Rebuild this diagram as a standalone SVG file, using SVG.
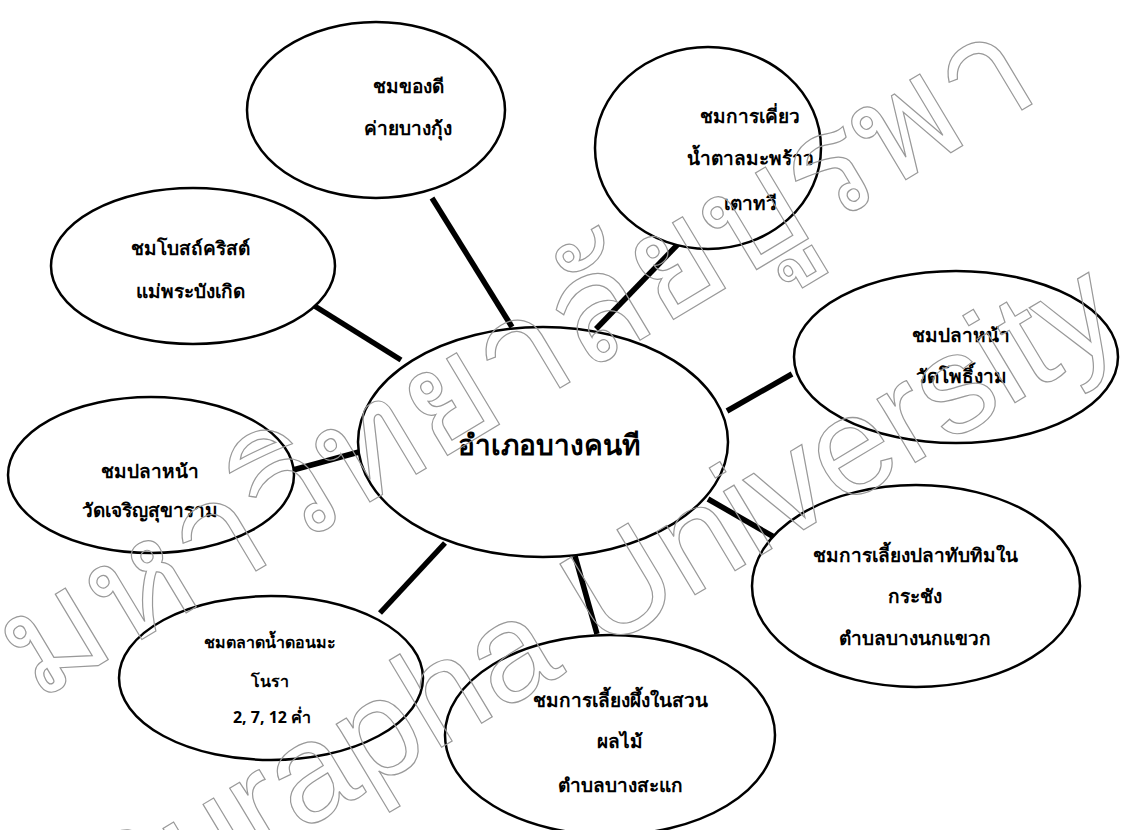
<svg xmlns="http://www.w3.org/2000/svg" width="1122" height="830" viewBox="0 0 1122 830">
<style>
.bg{fill:#fff}
.node ellipse{fill:#fff;stroke:#000;stroke-width:2.5}
.node text{font-family:"Noto Sans","DejaVu Sans",sans-serif;font-weight:bold;font-size:19px;fill:#000;text-anchor:middle}
.node text.sm{font-size:16px}
.node text.big{font-size:28px}
#connectors line{stroke:#000;stroke-width:5.5;stroke-linecap:butt}
.wm{font-family:"Liberation Sans","Noto Sans",sans-serif;fill:none;stroke:#999;stroke-width:1.2;text-anchor:middle}
</style>
<rect class="bg" x="0" y="0" width="1122" height="830"/>
<g id="connectors">
<line x1="432" y1="198" x2="512" y2="327"/>
<line x1="684" y1="238" x2="596" y2="329"/>
<line x1="313" y1="305" x2="401" y2="360"/>
<line x1="792" y1="374" x2="727" y2="411"/>
<line x1="293" y1="470" x2="359" y2="452"/>
<line x1="708" y1="499" x2="774" y2="537"/>
<line x1="445" y1="543" x2="380" y2="613"/>
<line x1="575" y1="556" x2="597" y2="634"/>
</g>
<g id="node-top" class="node">
<ellipse cx="376" cy="110" rx="129" ry="88"/>
<text x="408" y="93">ชมของดี</text>
<text x="408" y="135">ค่ายบางกุ้ง</text>
</g>
<g id="node-topright" class="node">
<ellipse cx="708" cy="148" rx="113" ry="101"/>
<text x="750" y="123">ชมการเคี่ยว</text>
<text x="750" y="165">น้ำตาลมะพร้าว</text>
<text x="750" y="210">เตาทวี</text>
</g>
<g id="node-left" class="node">
<ellipse cx="193" cy="266" rx="142" ry="78"/>
<text x="190" y="255">ชมโบสถ์คริสต์</text>
<text x="190" y="298">แม่พระบังเกิด</text>
</g>
<g id="node-right" class="node">
<ellipse cx="956" cy="357" rx="162" ry="86"/>
<text x="961" y="342">ชมปลาหน้า</text>
<text x="961" y="383">วัดโพธิ์งาม</text>
</g>
<g id="node-leftmid" class="node">
<ellipse cx="151" cy="475" rx="143" ry="78"/>
<text x="150" y="478">ชมปลาหน้า</text>
<text x="150" y="517">วัดเจริญสุขาราม</text>
</g>
<g id="node-center" class="node">
<ellipse cx="543" cy="442" rx="185" ry="115"/>
<text class="big" x="549" y="455">อำเภอบางคนที</text>
</g>
<g id="node-bottomright" class="node">
<ellipse cx="916" cy="586" rx="164" ry="101"/>
<text x="915" y="562">ชมการเลี้ยงปลาทับทิมใน</text>
<text x="915" y="603">กระชัง</text>
<text x="915" y="645">ตำบลบางนกแขวก</text>
</g>
<g id="node-bottomleft" class="node">
<ellipse cx="271" cy="678" rx="152" ry="82"/>
<text class="sm" x="270" y="648">ชมตลาดน้ำดอนมะ</text>
<text class="sm" x="270" y="687">โนรา</text>
<text class="sm" x="272" y="723">2, 7, 12 ค่ำ</text>
</g>
<g id="node-bottom" class="node">
<ellipse cx="610" cy="735" rx="165" ry="100"/>
<text x="620" y="707">ชมการเลี้ยงผึ้งในสวน</text>
<text x="620" y="748">ผลไม้</text>
<text x="620" y="792">ตำบลบางสะแก</text>
</g>
<g id="watermark">
<text class="wm" x="0" y="0" font-size="150" transform="translate(540,400) rotate(-31)">มหาวิทยาลัยบูรพา</text>
<text class="wm" x="0" y="0" font-size="140" transform="translate(620,640) rotate(-31)">Burapha University</text>
</g>
</svg>
